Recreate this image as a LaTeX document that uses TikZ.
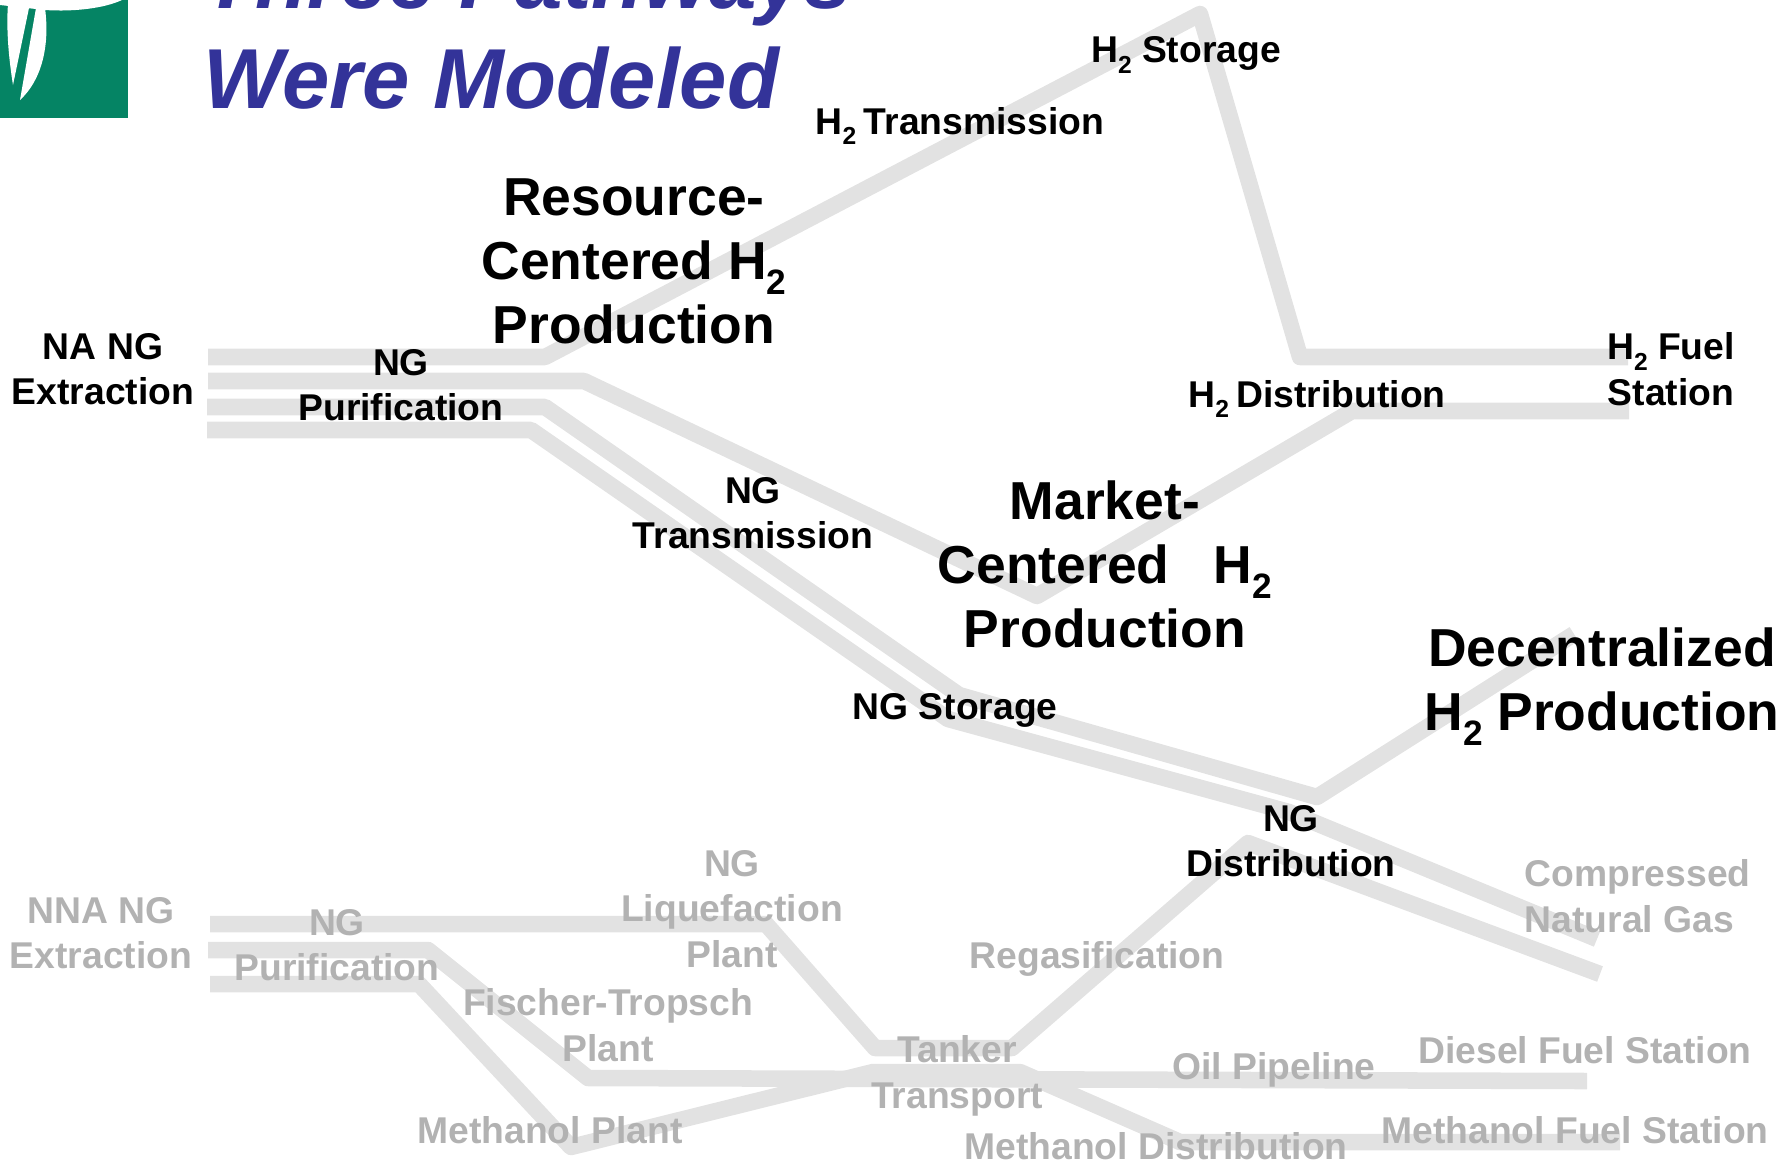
\documentclass[tikz,border=0pt]{standalone}
\usepackage{fontspec}
\usepackage{graphicx}
\setmainfont{Liberation Sans}
\definecolor{pathgrey}{HTML}{E2E2E2}
\definecolor{labelgrey}{HTML}{B2B2B2}
\definecolor{titleblue}{HTML}{333399}
\definecolor{logogreen}{HTML}{058464}
\newcommand\htwo{H\raisebox{-.28em}{\scalebox{.66}{2}}}
\newcommand\plabel[4]{\node[#1] (#2) at (#3) {#4};}
\tikzset{
  pathline/.style={line width=4.7pt,draw=pathgrey,line join=round},
  smalltext/.style={font=\fontsize{10.6pt}{12.9pt}\selectfont\bfseries,align=center,inner sep=0pt},
  blacktext/.style={smalltext,text=black},
  greytext/.style={smalltext,text=labelgrey},
  bigtext/.style={font=\fontsize{15.2pt}{18.2pt}\selectfont\bfseries,align=center,inner sep=0pt},
  titletext/.style={font=\fontsize{24.2pt}{28.4pt}\selectfont\bfseries\itshape,text=titleblue,align=left,inner sep=0pt}
}
\begin{document}
\begin{tikzpicture}[x=0.01cm,y=-0.01cm]
\useasboundingbox (0,0) rectangle (1782,1163);
\fill[logogreen] (0,0) rectangle (128,118);
\fill[white] (0,0) -- (0,5) -- (45,10) .. controls (75,12) and (105,8) .. (122,0) -- cycle;
\fill[white] (8,4) .. controls (6,30) and (9,60) .. (13,85) -- (29,8) -- cycle;
\fill[white] (36,8) -- (45,8) .. controls (50,45) and (42,80) .. (20,100) -- cycle;
\coordinate (a0) at (208,357); \coordinate (a1) at (545,357); \coordinate (a2) at (1200,14);
\coordinate (a3) at (1300,357); \coordinate (a4) at (1628,357);
\coordinate (b0) at (208,381); \coordinate (b1) at (584,381); \coordinate (b2) at (1037,596);
\coordinate (b3) at (1352,411); \coordinate (b4) at (1629,411);
\coordinate (c0) at (207,407); \coordinate (c1) at (545,407); \coordinate (c2) at (959,695);
\coordinate (c3) at (1317,797); \coordinate (c4) at (1574,634);
\coordinate (d0) at (207,430); \coordinate (d1) at (531,430); \coordinate (d2) at (948,719);
\coordinate (d3) at (1289,812); \coordinate (d4) at (1597,939);
\coordinate (e0) at (210,924); \coordinate (e1) at (766,924); \coordinate (e2) at (875,1048);
\coordinate (e3) at (1012,1048); \coordinate (e4) at (1248,843); \coordinate (e5) at (1600,974);
\coordinate (f0) at (208,950); \coordinate (f1) at (428,950); \coordinate (f2) at (588,1078);
\coordinate (f3) at (1587,1081);
\coordinate (g0) at (210,984); \coordinate (g1) at (419,984); \coordinate (g2) at (571,1147);
\coordinate (g3) at (873,1072); \coordinate (g4) at (1020,1072); \coordinate (g5) at (1180,1142);
\coordinate (g6) at (1620,1142);
\draw[pathline] (a0) -- (a1) -- (a2) -- (a3) -- (a4);
\draw[pathline] (b0) -- (b1) -- (b2) -- (b3) -- (b4);
\draw[pathline] (c0) -- (c1) -- (c2) -- (c3) -- (c4);
\draw[pathline] (d0) -- (d1) -- (d2) -- (d3) -- (d4);
\draw[pathline] (e0) -- (e1) -- (e2) -- (e3) -- (e4) -- (e5);
\draw[pathline] (f0) -- (f1) -- (f2) -- (f3);
\draw[pathline] (g0) -- (g1) -- (g2) -- (g3) -- (g4) -- (g5) -- (g6);
\node[titletext,anchor=base west] (title) at (203,108) {\strut Three Pathways\\Were Modeled};
\plabel{blacktext}{naext}{103,369}{NA NG\\Extraction}
\plabel{blacktext}{napur}{401,385}{NG\\Purification}
\plabel{blacktext}{htrans}{960,126}{\htwo\hspace{.2em}Transmission}
\plabel{blacktext}{hstor}{1186,55}{\htwo\ Storage}
\plabel{blacktext}{hfuel}{1671,369}{\htwo\ Fuel\\Station}
\plabel{blacktext}{hdist}{1317,399}{\htwo\hspace{.2em}Distribution}
\plabel{blacktext}{ngtrans}{753,513}{NG\\Transmission}
\plabel{blacktext}{ngstor}{955,710}{NG Storage}
\plabel{blacktext}{ngdist}{1291,841}{NG\\Distribution}
\plabel{bigtext}{rescen}{634,261}{Resource-\\Centered \htwo\\Production}
\plabel{bigtext}{marcen}{1105,564}{Market-\\Centered \ \ \htwo\\Production}
\plabel{bigtext}{decen}{1602,687}{Decentralized\\\htwo\ Production}
\plabel{greytext}{nnaext}{101,933}{NNA NG\\Extraction}
\plabel{greytext}{nnapur}{337,945}{NG\\Purification}
\plabel{greytext}{liqu}{732,909}{NG\\Liquefaction\\Plant}
\plabel{greytext}{fisch}{608,1025}{Fischer-Tropsch\\Plant}
\plabel{greytext}{methpl}{550,1130}{Methanol Plant}
\plabel{greytext}{tank}{957,1076}{Tanker\\Transport}
\plabel{greytext}{regas}{1097,959}{Regasification}
\plabel{greytext}{oilpipe}{1274,1070}{Oil Pipeline}
\plabel{greytext}{dieselst}{1585,1050}{Diesel Fuel Station}
\plabel{greytext}{methdist}{1156,1146}{Methanol Distribution}
\plabel{greytext}{methst}{1575,1130}{Methanol Fuel Station}
\node[greytext,align=left,anchor=west] (cng) at (1524,896) {Compressed\\Natural Gas};
\end{tikzpicture}
\end{document}
